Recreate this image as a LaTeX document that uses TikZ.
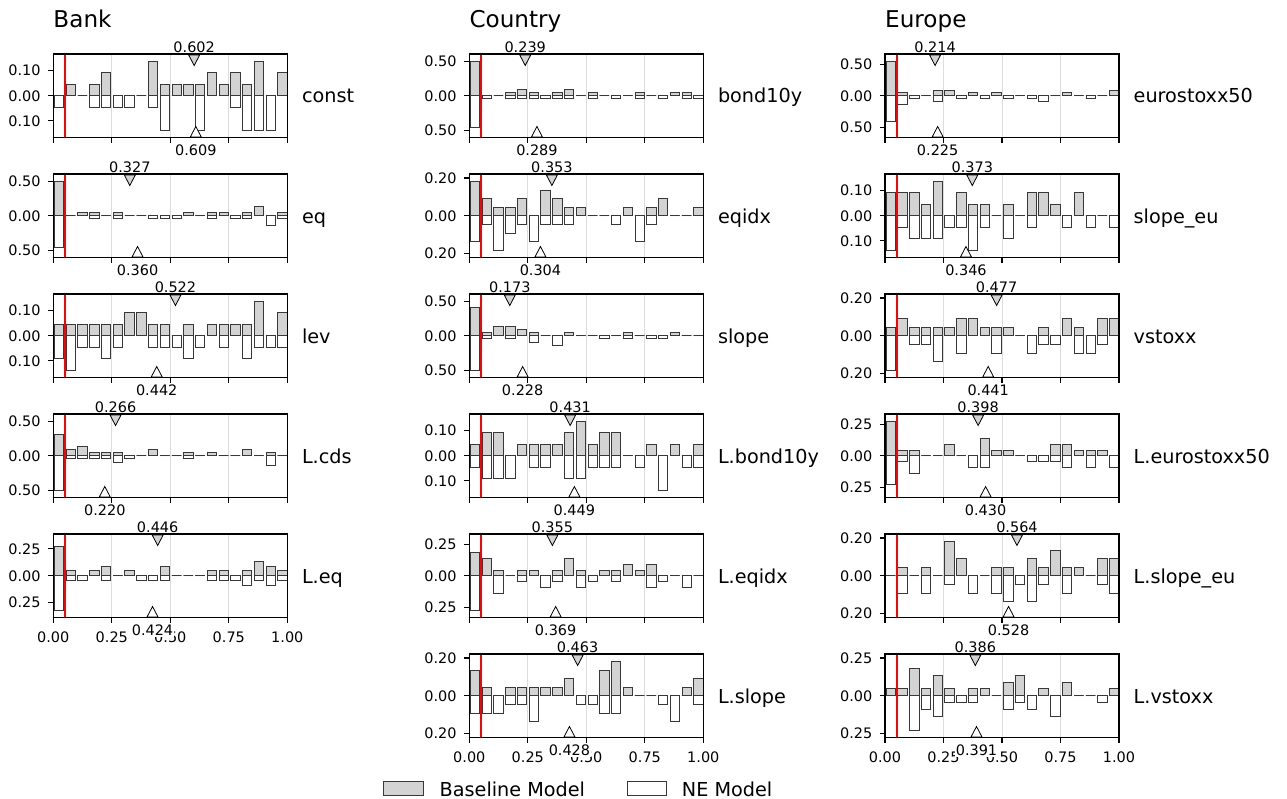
\documentclass[tikz,border=0pt]{standalone}
\usepackage{fontspec}
\setmainfont{DejaVu Sans}
\usetikzlibrary{positioning}
\definecolor{basefill}{HTML}{D3D3D3}
\definecolor{baredge}{HTML}{383838}
\definecolor{gridgray}{HTML}{DCDCDC}
\newcommand{\ticksize}{\fontsize{14.5}{17}\selectfont}
\newcommand{\labsize}{\fontsize{19.3}{23}\selectfont}
\newcommand{\titlesize}{\fontsize{23.2}{27}\selectfont}
\begin{document}
\begin{tikzpicture}[x=1bp, y=-1bp,
        every node/.style={inner sep=0pt},
        ]
        \tikzstyle{basebar} = [draw=baredge, fill=basefill, line width=0.8bp];
        \tikzstyle{nebar} = [draw=baredge, fill=white, line width=0.8bp];
        \tikzstyle{gridline} = [draw=gridgray, line width=0.9bp];
        \tikzstyle{cutline} = [draw=red, line width=1.7bp];
        \tikzstyle{frame} = [draw=black, line width=1.1bp];
        \tikzstyle{tickmark} = [draw=black, line width=1.1bp];
        \tikzstyle{ticklab} = [font=\ticksize];
        \tikzstyle{marklab} = [font=\ticksize, fill=white, inner sep=1bp];
        \tikzstyle{toptri} = [draw=black, fill=basefill, line width=0.8bp];
        \tikzstyle{bottri} = [draw=black, fill=white, line width=0.8bp];
        \tikzstyle{rowlab} = [font=\labsize, anchor=base west];
        \tikzstyle{coltitle} = [font=\titlesize, anchor=base west];
        % id, x0, top, largest count, tick, baseline counts, NE counts, label, marks
        \newcommand{\histpanel}[9]{
            \begin{scope}[shift={(#2,#3)}]
            \pgfmathsetmacro{\pxc}{34.3/#4}
            \pgfmathsetmacro{\tk}{#5*22*\pxc}
            \foreach \g in {58.5,117,175.5}
                \draw[gridline] (\g,0) -- (\g,83.5);
            \foreach \h [count=\i from 0] in {#6}
                \draw[basebar] ({1+11.76*\i},41.75) rectangle ++(9.4,{-\h*\pxc});
            \foreach \h [count=\i from 0] in {#7}
                \draw[nebar] ({1+11.76*\i},41.75) rectangle ++(9.4,{\h*\pxc});
            \draw[cutline] (11.7,0) -- (11.7,83.5);
            \foreach \g in {0,58.5,117,175.5,234}
                \draw[tickmark] (\g,83.5) -- (\g,89);
            \foreach \t in {-1,0,1}
                \draw[tickmark] (0,{41.75+\t*\tk}) -- (-5.5,{41.75+\t*\tk});
            \node[ticklab, anchor=east] (#1-yp) at (-12.5,{41.75-\tk}) {#5};
            \node[ticklab, anchor=east] (#1-yz) at (-12.5,41.75) {0.00};
            \node[ticklab, anchor=east] (#1-yn) at (-12.5,{41.75+\tk}) {#5};
            \node[rowlab] (#1-name) at (248.5,49) {#8};
            \foreach \mt/\mb in {#9} {
                \node[marklab, anchor=south] (#1-mt) at ({234*\mt},-0.5) {\mt};
                \draw[toptri] ({234*\mt-5.5},1) -- ({234*\mt+5.5},1) -- ({234*\mt},11.5) -- cycle;
                \node[marklab, anchor=north] (#1-mb) at ({234*\mb},90) {\mb};
                \draw[bottri] ({234*\mb-5.5},83) -- ({234*\mb+5.5},83) -- ({234*\mb},72.5) -- cycle;
            }
            \draw[frame] (0,0) rectangle (234,83.5);
            \end{scope}
        }
        \useasboundingbox (0,0) rectangle (1287,799);
        % column titles
        \node[coltitle] (t-bank) at (53.3,28) {Bank};
        \node[coltitle] (t-country) at (469.3,28) {Country};
        \node[coltitle] (t-europe) at (885,28) {Europe};
        % x tick labels under the last panel of each column
        \foreach \cx/\by [count=\c] in {53.3/617.5, 469.3/737.5, 885/737.5}
            \foreach \v [count=\i] in {0.00,0.25,0.50,0.75,1.00}
                \node[ticklab, anchor=north] (xt\c-\i) at ({\cx+234*\v},{\by+14}) {\v};
        % Bank
        \histpanel{bconst}{53.3}{54}{3}{0.10}
            {0,1,0,1,2,0,0,0,3,1,1,1,1,2,1,2,1,3,0,2}
            {1,0,0,1,1,1,1,0,1,3,0,0,3,0,0,1,3,3,3,0}{const}{0.602/0.609}
        \histpanel{beq}{53.3}{174}{11}{0.50}
            {11,0,1,1,0,1,0,0,0,0,0,1,0,1,1,0,1,3,0,1}
            {10,0,0,1,0,1,0,0,1,1,1,0,0,1,0,1,1,0,3,1}{eq}{0.327/0.360}
        \histpanel{blev}{53.3}{294}{3}{0.10}
            {1,1,1,1,1,1,2,2,1,1,0,1,0,1,1,1,1,3,0,2}
            {2,3,1,1,2,1,0,0,1,1,1,2,1,0,1,0,2,1,1,1}{lev}{0.522/0.442}
        \histpanel{blcds}{53.3}{414}{11}{0.50}
            {7,2,3,1,1,1,0,0,2,0,0,1,0,1,0,0,2,0,1,0}
            {11,1,1,1,1,2,1,0,0,0,0,1,0,0,0,0,0,0,3,0}{L.cds}{0.266/0.220}
        \histpanel{bleq}{53.3}{534}{7}{0.25}
            {6,1,0,1,2,0,1,0,0,2,0,0,0,1,1,0,1,3,2,1}
            {7,1,1,0,1,0,0,1,1,1,0,0,0,1,1,1,2,1,2,1}{L.eq}{0.446/0.424}
        % Country
        \histpanel{cbond}{469.3}{54}{11}{0.50}
            {11,0,0,1,2,1,0,1,2,0,1,0,0,0,1,0,0,1,1,0}
            {10,1,0,1,1,1,1,1,1,0,1,0,1,0,1,0,1,0,1,1}{bond10y}{0.239/0.289}
        \histpanel{ceqidx}{469.3}{174}{4}{0.20}
            {4,2,1,1,2,0,3,2,1,1,0,0,0,1,0,1,2,0,0,1}
            {3,1,4,2,1,3,1,1,1,0,0,0,1,0,3,1,0,0,0,0}{eqidx}{0.353/0.304}
        \histpanel{cslope}{469.3}{294}{11}{0.50}
            {9,1,3,3,2,1,0,0,1,0,0,0,0,1,0,0,0,1,0,0}
            {11,1,0,1,0,2,0,3,0,0,0,1,0,1,0,1,1,0,0,0}{slope}{0.173/0.228}
        \histpanel{clbond}{469.3}{414}{3}{0.10}
            {1,2,2,0,1,1,1,1,2,3,1,2,2,0,0,1,0,1,0,1}
            {1,2,2,2,0,1,1,0,2,2,1,1,1,0,1,0,3,0,1,1}{L.bond10y}{0.431/0.449}
        \histpanel{cleqidx}{469.3}{534}{6}{0.25}
            {4,3,1,0,1,1,0,1,3,1,0,1,1,2,1,2,0,0,0,0}
            {6,0,3,0,1,0,2,1,0,2,1,0,1,0,0,2,1,0,2,0}{L.eqidx}{0.355/0.369}
        \histpanel{clslope}{469.3}{654}{4}{0.20}
            {3,1,0,1,1,1,1,1,2,0,0,3,4,1,0,0,0,0,1,2}
            {2,2,2,1,1,3,0,0,0,1,1,2,2,0,0,0,1,3,0,1}{L.slope}{0.463/0.428}
        % Europe
        \histpanel{estoxx}{885}{54}{12}{0.50}
            {12,1,0,0,2,2,0,1,0,1,0,0,0,0,0,1,0,0,0,2}
            {9,3,1,0,2,0,1,0,1,0,1,0,1,2,0,0,0,1,0,0}{eurostoxx50}{0.214/0.225}
        \histpanel{eslope}{885}{174}{3}{0.10}
            {2,2,2,1,3,0,2,1,1,0,1,0,2,2,1,0,2,0,0,0}
            {3,1,2,2,2,1,1,3,1,0,2,0,1,0,0,1,0,1,0,1}{slope\_eu}{0.373/0.346}
        \histpanel{evstoxx}{885}{294}{4}{0.20}
            {1,2,1,1,1,1,2,2,1,1,1,0,0,1,0,2,1,0,2,2}
            {4,0,1,1,3,0,2,0,0,2,0,0,2,1,1,0,2,2,1,0}{vstoxx}{0.477/0.441}
        \histpanel{elstoxx}{885}{414}{6}{0.25}
            {6,1,1,0,0,2,0,0,3,1,1,0,0,0,2,2,1,1,1,0}
            {5,1,3,0,0,0,0,2,2,0,0,0,1,1,1,2,0,2,0,2}{L.eurostoxx50}{0.398/0.430}
        \histpanel{elslope}{885}{534}{4}{0.20}
            {0,1,0,1,0,4,2,0,0,1,1,0,2,1,3,1,1,0,2,2}
            {0,2,0,2,0,1,0,2,0,2,3,1,3,1,0,2,0,0,1,2}{L.slope\_eu}{0.564/0.528}
        \histpanel{elvstoxx}{885}{654}{5}{0.25}
            {1,1,4,1,3,1,0,1,1,0,2,3,0,1,0,2,0,0,0,1}
            {0,0,5,2,3,1,1,1,0,0,2,1,2,0,3,0,0,0,1,0}{L.vstoxx}{0.386/0.391}
        % legend
        \node[basebar, minimum width=39.3bp, minimum height=14bp, anchor=west] (leg-bsw) at (383.4,788.7) {};
        \node[rowlab] (leg-btext) at (439.5,796.5) {Baseline Model};
        \node[nebar, minimum width=39.3bp, minimum height=14bp, anchor=west] (leg-nsw) at (626.7,788.7) {};
        \node[rowlab] (leg-ntext) at (681.7,796.5) {NE Model};
\end{tikzpicture}
\end{document}
